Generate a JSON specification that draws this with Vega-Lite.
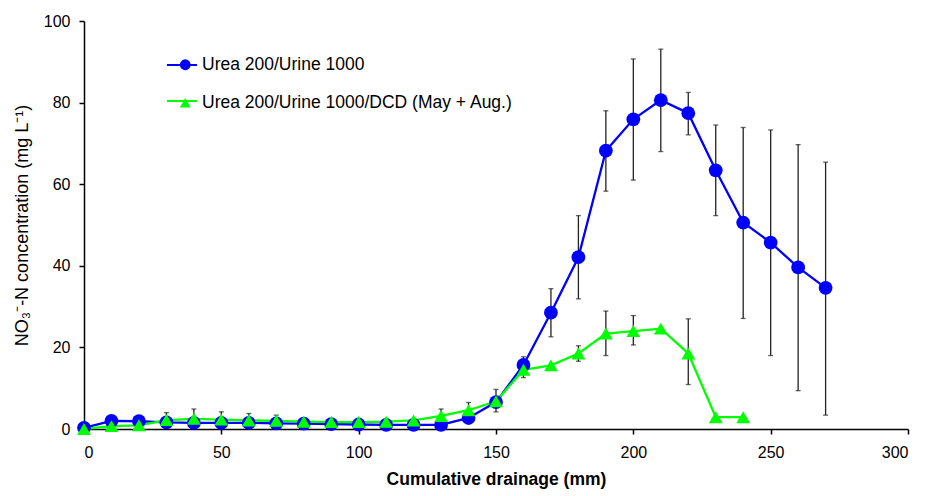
{
  "$schema": "https://vega.github.io/schema/vega-lite/v6.json",
  "width": 824,
  "height": 408,
  "autosize": {"type": "none"},
  "padding": {"left": 84, "top": 21, "right": 18, "bottom": 67},
  "background": "white",
  "config": {
    "view": {"stroke": null},
    "font": "Liberation Sans",
    "axis": {
      "grid": false,
      "domainColor": "black",
      "domainWidth": 1.5,
      "tickColor": "black",
      "tickWidth": 1.5,
      "tickSize": 5,
      "labelFont": "Liberation Sans",
      "labelFontSize": 16,
      "labelColor": "black",
      "titleFont": "Liberation Sans",
      "titleColor": "black"
    }
  },
  "data": {
    "values": [
      {"x": 0, "y": 0.3, "lo": null, "hi": null, "s": "Urea 200/Urine 1000"},
      {"x": 10, "y": 2.0, "lo": null, "hi": null, "s": "Urea 200/Urine 1000"},
      {"x": 20, "y": 1.9, "lo": null, "hi": null, "s": "Urea 200/Urine 1000"},
      {"x": 30, "y": 1.6, "lo": null, "hi": null, "s": "Urea 200/Urine 1000"},
      {"x": 40, "y": 1.5, "lo": null, "hi": null, "s": "Urea 200/Urine 1000"},
      {"x": 50, "y": 1.5, "lo": null, "hi": null, "s": "Urea 200/Urine 1000"},
      {"x": 60, "y": 1.5, "lo": null, "hi": null, "s": "Urea 200/Urine 1000"},
      {"x": 70, "y": 1.4, "lo": null, "hi": null, "s": "Urea 200/Urine 1000"},
      {"x": 80, "y": 1.3, "lo": null, "hi": null, "s": "Urea 200/Urine 1000"},
      {"x": 90, "y": 1.2, "lo": null, "hi": null, "s": "Urea 200/Urine 1000"},
      {"x": 100, "y": 1.1, "lo": null, "hi": null, "s": "Urea 200/Urine 1000"},
      {"x": 110, "y": 1.0, "lo": null, "hi": null, "s": "Urea 200/Urine 1000"},
      {"x": 120, "y": 1.0, "lo": null, "hi": null, "s": "Urea 200/Urine 1000"},
      {"x": 130, "y": 1.0, "lo": null, "hi": null, "s": "Urea 200/Urine 1000"},
      {"x": 140, "y": 2.7, "lo": null, "hi": null, "s": "Urea 200/Urine 1000"},
      {"x": 150, "y": 6.6, "lo": null, "hi": null, "s": "Urea 200/Urine 1000"},
      {"x": 160, "y": 15.7, "lo": 12.6, "hi": 17.7, "s": "Urea 200/Urine 1000"},
      {"x": 170, "y": 28.5, "lo": 22.6, "hi": 34.4, "s": "Urea 200/Urine 1000"},
      {"x": 180, "y": 42.1, "lo": 31.9, "hi": 52.3, "s": "Urea 200/Urine 1000"},
      {"x": 190, "y": 68.2, "lo": 58.3, "hi": 78.0, "s": "Urea 200/Urine 1000"},
      {"x": 200, "y": 75.9, "lo": 61.0, "hi": 90.7, "s": "Urea 200/Urine 1000"},
      {"x": 210, "y": 80.6, "lo": 68.0, "hi": 93.1, "s": "Urea 200/Urine 1000"},
      {"x": 220, "y": 77.4, "lo": 72.1, "hi": 82.5, "s": "Urea 200/Urine 1000"},
      {"x": 230, "y": 63.4, "lo": 52.3, "hi": 74.5, "s": "Urea 200/Urine 1000"},
      {"x": 240, "y": 50.6, "lo": 27.1, "hi": 73.9, "s": "Urea 200/Urine 1000"},
      {"x": 250, "y": 45.7, "lo": 18.0, "hi": 73.3, "s": "Urea 200/Urine 1000"},
      {"x": 260, "y": 39.6, "lo": 9.4, "hi": 69.7, "s": "Urea 200/Urine 1000"},
      {"x": 270, "y": 34.6, "lo": 3.4, "hi": 65.4, "s": "Urea 200/Urine 1000"},
      {"x": 0, "y": 0.0, "lo": null, "hi": null, "s": "Urea 200/Urine 1000/DCD (May + Aug.)"},
      {"x": 10, "y": 0.7, "lo": null, "hi": null, "s": "Urea 200/Urine 1000/DCD (May + Aug.)"},
      {"x": 20, "y": 0.9, "lo": null, "hi": null, "s": "Urea 200/Urine 1000/DCD (May + Aug.)"},
      {"x": 30, "y": 2.2, "lo": 0.4, "hi": 4.0, "s": "Urea 200/Urine 1000/DCD (May + Aug.)"},
      {"x": 40, "y": 2.5, "lo": 0.1, "hi": 4.9, "s": "Urea 200/Urine 1000/DCD (May + Aug.)"},
      {"x": 50, "y": 2.3, "lo": 0.4, "hi": 4.2, "s": "Urea 200/Urine 1000/DCD (May + Aug.)"},
      {"x": 60, "y": 2.1, "lo": 0.4, "hi": 3.8, "s": "Urea 200/Urine 1000/DCD (May + Aug.)"},
      {"x": 70, "y": 2.0, "lo": 0.6, "hi": 3.4, "s": "Urea 200/Urine 1000/DCD (May + Aug.)"},
      {"x": 80, "y": 1.8, "lo": null, "hi": null, "s": "Urea 200/Urine 1000/DCD (May + Aug.)"},
      {"x": 90, "y": 1.7, "lo": null, "hi": null, "s": "Urea 200/Urine 1000/DCD (May + Aug.)"},
      {"x": 100, "y": 1.7, "lo": null, "hi": null, "s": "Urea 200/Urine 1000/DCD (May + Aug.)"},
      {"x": 110, "y": 1.8, "lo": null, "hi": null, "s": "Urea 200/Urine 1000/DCD (May + Aug.)"},
      {"x": 120, "y": 2.1, "lo": null, "hi": null, "s": "Urea 200/Urine 1000/DCD (May + Aug.)"},
      {"x": 130, "y": 3.2, "lo": 1.5, "hi": 4.9, "s": "Urea 200/Urine 1000/DCD (May + Aug.)"},
      {"x": 140, "y": 4.6, "lo": 2.7, "hi": 6.5, "s": "Urea 200/Urine 1000/DCD (May + Aug.)"},
      {"x": 150, "y": 6.8, "lo": 4.2, "hi": 9.7, "s": "Urea 200/Urine 1000/DCD (May + Aug.)"},
      {"x": 160, "y": 14.5, "lo": null, "hi": null, "s": "Urea 200/Urine 1000/DCD (May + Aug.)"},
      {"x": 170, "y": 15.6, "lo": null, "hi": null, "s": "Urea 200/Urine 1000/DCD (May + Aug.)"},
      {"x": 180, "y": 18.5, "lo": 16.6, "hi": 20.4, "s": "Urea 200/Urine 1000/DCD (May + Aug.)"},
      {"x": 190, "y": 23.4, "lo": 18.0, "hi": 28.9, "s": "Urea 200/Urine 1000/DCD (May + Aug.)"},
      {"x": 200, "y": 24.0, "lo": 20.6, "hi": 27.8, "s": "Urea 200/Urine 1000/DCD (May + Aug.)"},
      {"x": 210, "y": 24.6, "lo": null, "hi": null, "s": "Urea 200/Urine 1000/DCD (May + Aug.)"},
      {"x": 220, "y": 18.5, "lo": 10.9, "hi": 27.0, "s": "Urea 200/Urine 1000/DCD (May + Aug.)"},
      {"x": 230, "y": 2.9, "lo": null, "hi": null, "s": "Urea 200/Urine 1000/DCD (May + Aug.)"},
      {"x": 240, "y": 2.9, "lo": null, "hi": null, "s": "Urea 200/Urine 1000/DCD (May + Aug.)"}
    ]
  },
  "encoding": {
    "x": {
      "field": "x",
      "type": "quantitative",
      "scale": {"domain": [0, 300], "nice": false},
      "axis": {
        "values": [0, 50, 100, 150, 200, 250, 300],
        "title": "Cumulative drainage (mm)",
        "titleFontSize": 17.5,
        "titleFontWeight": "bold",
        "labelPadding": 10,
        "titlePadding": 10
      }
    }
  },
  "layer": [
    {
      "transform": [{"filter": "datum.lo != null"}],
      "mark": {"type": "rule", "color": "#222222", "strokeWidth": 1.3},
      "encoding": {
        "y": {"field": "lo", "type": "quantitative", "scale": {"domain": [0, 100], "nice": false}},
        "y2": {"field": "hi"}
      }
    },
    {
      "transform": [{"filter": "datum.lo != null"}],
      "mark": {"type": "tick", "orient": "horizontal", "color": "#222222", "size": 5, "thickness": 1.3},
      "encoding": {"y": {"field": "lo", "type": "quantitative"}}
    },
    {
      "transform": [{"filter": "datum.lo != null"}],
      "mark": {"type": "tick", "orient": "horizontal", "color": "#222222", "size": 5, "thickness": 1.3},
      "encoding": {"y": {"field": "hi", "type": "quantitative"}}
    },
    {
      "mark": {"type": "line", "strokeWidth": 2.3},
      "encoding": {
        "y": {"field": "y", "type": "quantitative"},
        "stroke": {
          "field": "s",
          "type": "nominal",
          "scale": {"domain": ["Urea 200/Urine 1000/DCD (May + Aug.)", "Urea 200/Urine 1000"], "range": ["#00FF00", "#0000FF"]},
          "legend": {
            "title": null,
            "orient": "none",
            "legendX": 82,
            "legendY": 28,
            "padding": 0,
            "values": ["Urea 200/Urine 1000", "Urea 200/Urine 1000/DCD (May + Aug.)"],
            "symbolType": "stroke",
            "symbolSize": 900,
            "symbolStrokeWidth": 2,
            "labelOffset": 3,
            "labelFontSize": 17.5,
            "labelExpr": "''",
            "rowPadding": 11,
            "labelLimit": 500
          }
        }
      }
    },
    {
      "mark": {"type": "point", "filled": true, "opacity": 1, "size": 190},
      "encoding": {
        "y": {
          "field": "y",
          "type": "quantitative",
          "axis": {
            "values": [0, 20, 40, 60, 80, 100],
            "title": "NO₃⁻-N concentration (mg L⁻¹)",
            "titleFontSize": 18,
            "titleFontWeight": "normal",
            "labelPadding": 9,
            "titlePadding": 12
          }
        },
        "color": {
          "field": "s",
          "type": "nominal",
          "scale": {"domain": ["Urea 200/Urine 1000", "Urea 200/Urine 1000/DCD (May + Aug.)"], "range": ["#0000FF", "#00FF00"]},
          "legend": {
            "title": null,
            "orient": "none",
            "legendX": 92.5,
            "legendY": 35,
            "padding": 0,
            "symbolSize": 116,
            "symbolStrokeWidth": 0,
            "symbolOpacity": 1,
            "labelOffset": 8,
            "labelFontSize": 17.5,
            "labelFont": "Liberation Sans",
            "labelColor": "black",
            "rowPadding": 19,
            "labelLimit": 500
          }
        },
        "shape": {
          "field": "s",
          "type": "nominal",
          "scale": {"domain": ["Urea 200/Urine 1000", "Urea 200/Urine 1000/DCD (May + Aug.)"], "range": ["circle", "triangle-up"]}
        }
      }
    }
  ]
}
